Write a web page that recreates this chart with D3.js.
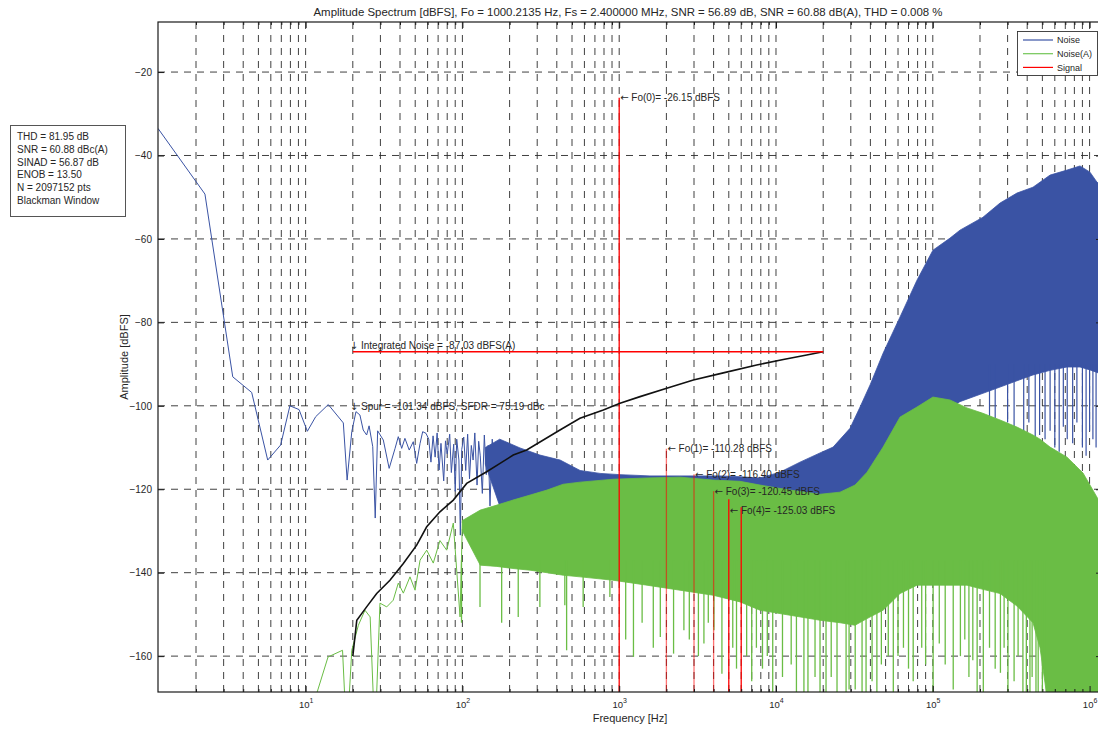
<!DOCTYPE html>
<html>
<head>
<meta charset="utf-8">
<script src="https://cdn.jsdelivr.net/npm/d3@7"></script>
<style>
	body { margin: 0; background: #fff; }
	text { font-family: "Liberation Sans", Arial, sans-serif; fill: #262626; }
	.arrow { font-family: "DejaVu Sans", sans-serif; }
</style>
</head>
<body>
<div id="spectrum"></div>
<script>
// amplitude spectrum figure (Hz and dBFS)

const titleText = "Amplitude Spectrum [dBFS], Fo = 1000.2135 Hz, Fs = 2.400000 MHz, SNR = 56.89 dB, SNR = 60.88 dB(A), THD = 0.008 %";
const infoLines = ["THD = 81.95 dB", "SNR = 60.88 dBc(A)", "SINAD = 56.87 dB", "ENOB = 13.50", "N = 2097152 pts", "Blackman Window"];
const legendNames = ["Noise", "Noise(A)", "Signal"];

const yTicks = [-160, -140, -120, -100, -80, -60, -40, -20];
const xMajor = [10, 100, 1000, 10000, 100000, 1000000];

// noise, first bins drawn as a line
const blueLineFreq = [1.144, 2.28, 3.43, 4.53, 5.73, 6.93, 7.94, 9.08, 10.26, 11.6, 13.95, 17.4, 18.4, 19.7, 20.95, 22.2, 23.3, 24.5, 25.4, 26.8, 27.8, 28.8, 31.3, 34.1, 37.2, 39.0, 41.0, 43.0, 45.8, 48.6, 51.1, 53.7, 55.8, 58.6, 61, 63, 65, 67, 69, 71, 73, 76, 78, 80, 83, 85, 88, 90, 92, 95, 97, 99, 102, 105, 108, 111, 114, 117, 120, 124, 127, 130, 134, 138, 142, 146, 150, 155, 160];
const blueLineLevel = [-33.5, -49.25, -93.05, -96.8, -113.0, -109.4, -100.0, -100.9, -106.1, -102.6, -99.7, -104.1, -117.8, -106.2, -101.4, -102.2, -105.8, -107.0, -104.8, -109.8, -126.9, -106.0, -108.2, -115.0, -110.2, -107.4, -110.2, -107.8, -110.6, -108.6, -113.8, -109.0, -106.2, -106.6, -108.0, -113.5, -107.2, -112.3, -106.5, -115.4, -109.0, -118.0, -108.4, -111.5, -106.8, -116.0, -109.2, -120.5, -108.0, -113.0, -131.0, -110.5, -107.5, -115.5, -106.8, -117.5, -109.5, -113.0, -106.5, -119.0, -108.5, -112.0, -121.0, -107.0, -116.5, -109.5, -124.0, -108.0, -118.0];

// noise, dense part drawn as a band between its upper and lower edge
const blueBandFreq = [140, 173, 233, 312, 420, 563, 755, 1012, 1570, 2440, 3280, 4390, 5900, 7900, 10600, 14230, 19080, 23130, 29650, 34360, 39810, 48190, 61830, 79260, 100200, 128800, 149000, 208900, 268500, 344400, 435500, 559800, 718000, 869000, 1006000, 1115000, 1200000];
const blueBandHigh = [-110.0, -108.0, -110.1, -111.8, -113.0, -115.5, -116.2, -116.5, -116.8, -116.8, -116.8, -116.8, -117.0, -117.3, -115.9, -113.5, -111.3, -109.9, -105.4, -100.3, -95.0, -87.4, -78.7, -69.9, -62.7, -59.8, -57.9, -54.8, -51.4, -49.0, -47.6, -44.7, -43.5, -42.5, -44.0, -46.4, -47.1];
const blueBandLow = [-114, -124, -130, -132, -134, -136, -138, -139, -141, -142, -143, -144, -145, -146, -146, -146, -146, -145, -140, -135, -130, -125, -118, -112, -106, -100.5, -99.0, -97.0, -95.5, -94.0, -92.6, -91.5, -90.7, -90.7, -91.4, -92.0, -92.5];
const blueSpikeFreq = [230000, 250000, 300000, 330000, 380000, 410000, 450000, 480000, 520000, 560000, 600000, 640000, 680000, 720000, 780000, 830000, 900000, 950000, 1000000, 1050000, 1100000, 1150000];
const blueSpikeLevel = [-106, -103, -104, -106, -110, -104, -109, -107, -108, -106, -110, -111, -105, -108, -109, -104, -110, -112, -106, -108, -110, -104];

// noise(A), first bins drawn as a line
const greenLineFreq = [10.3, 13.9, 17.2, 18.3, 19.7, 21.7, 23.9, 25.8, 27.7, 29.8, 32.9, 36.2, 39.0, 42.0, 46.3, 49.9, 53.7, 59.2, 65.2, 71.9, 79.4, 87.5, 96.6, 100];
const greenLineLevel = [-176, -160.2, -158.6, -180, -158.6, -152.6, -149.0, -150.6, -180, -147.3, -148.2, -146.6, -142.5, -144.9, -141.0, -144.2, -137.0, -134.6, -137.7, -132.3, -134.6, -128.1, -150.6, -127.5];

// noise(A), dense part
const greenBandFreq = [100, 130, 166, 210, 270, 346, 439, 563, 912, 1504, 2443, 3963, 5897, 7911, 12280, 19080, 25600, 31920, 38090, 48190, 61830, 79260, 100200, 128800, 165200, 208900, 268500, 344400, 435500, 483000, 559800, 718000, 908000, 1115000, 1200000];
const greenBandHigh = [-127.5, -125.0, -123.8, -122.6, -121.4, -120.2, -118.8, -118.3, -117.6, -117.3, -117.1, -117.8, -118.1, -119.0, -120.2, -121.2, -120.7, -119.0, -115.9, -109.9, -102.7, -100.3, -97.9, -98.6, -100.5, -101.8, -103.4, -105.1, -107.0, -108.0, -109.9, -112.3, -116.1, -121.9, -123.8];
const greenBandLow = [-130, -138.2, -138.5, -139, -139.4, -140, -140.6, -141, -141.8, -143, -144.2, -145.4, -147, -149.0, -150.2, -151.4, -152, -152.6, -151, -149.0, -145, -143, -143, -143, -143, -144, -145, -148, -152, -158, -175, -175, -175, -175, -175];
const greenSpikeFreq = [98.7, 129.5, 178, 227, 312, 450, 462, 589, 872, 1100, 1233, 1400, 1650, 1829, 2222, 2586, 2800, 3200, 3470, 3700, 4020, 4520, 5300, 5600, 6500, 7000, 7500, 8200, 8800, 9530, 11000, 12500, 13500, 15070, 15990, 17740, 19090, 20850, 22500, 24500, 27990, 29250, 32000, 35390, 37530, 41000, 44000, 47000, 52000, 56000, 60000, 65000, 70000, 75000, 85000, 90000, 100500, 110000, 120000, 135000, 150000, 160000, 170000, 180000, 191800, 210000, 230000, 250000, 270000, 285000, 301600, 330000, 350000, 375700, 395000, 416600, 430000, 455100, 470000, 500000, 530000];
const greenSpikeLevel = [-152, -148.2, -152, -150.6, -148.2, -147.8, -158.6, -148.2, -145.8, -156, -160.2, -152, -158, -155.4, -159.4, -153.8, -156, -160, -157, -152, -153.8, -164.2, -158, -163, -160, -166, -158, -163, -160, -175, -165, -162, -170, -175, -175, -165, -175, -175, -165, -172, -175, -168, -168, -175, -175, -166, -170, -162, -160, -170, -160, -158, -163, -166, -158, -162, -175, -157, -162, -168, -160, -156, -165, -161, -175, -170, -158, -163, -164, -158, -175, -166, -160, -175, -170, -175, -165, -175, -175, -175, -175];

// signal bins: fundamental and harmonics
const signalFreq = [1000, 2000, 3000, 4000, 5000, 6000];
const signalLevel = [-26.15, -110.28, -116.40, -120.45, -122.4, -124.3];
const signalFaded = [false, true, true, true, false, false];
const harmonicNames = ["Fo(0)", "Fo(1)", "Fo(2)", "Fo(3)", "Fo(4)"];
const harmonicLevel = [-26.15, -110.28, -116.40, -120.45, -125.03];
const harmonicText = ["-26.15", "-110.28", "-116.40", "-120.45", "-125.03"];

// integrated noise curve (black)
const integFreq = [20, 21.2, 24.5, 28.4, 34.5, 42.0, 51.1, 59.2, 71.9, 87.5, 106.5, 142.8, 173.8, 211, 257, 419, 562, 792, 1012, 1358, 2010, 2972, 4613, 7534, 11140, 15710, 20000];
const integLevel = [-160, -151.4, -148.2, -145.0, -141.8, -137.8, -133.4, -129.0, -125.4, -122.6, -118.6, -115.8, -113.8, -111.8, -110.6, -105.8, -103.0, -101.0, -99.4, -97.8, -95.8, -93.8, -92.1, -90.2, -88.9, -87.8, -87.03];
const integBand = [20, 20000];
const integValue = -87.03;
const spurFreq = 20;
const spurValue = -101.34;

// colours
const blue = "#3a53a4";
const green = "#6abd45";
const red = "#ff0000";
const gridColor = "#2b2b2b";

// sizes
const totalWidth = 1098, h = 729;
const plot = {left: 158, right: 1102, top: 22, bottom: 692};

const x = d3.scaleLog().domain([1.1444, 1.2e6]).range([plot.left, plot.right]);
const y = d3.scaleLinear().domain([-168.6, -8]).range([plot.bottom, plot.top]);

const svg = d3.select("#spectrum")
	.append("svg")
	.attr("width", totalWidth)
	.attr("height", h);

svg.append("defs").append("clipPath")
	.attr("id", "plotClip")
	.append("rect")
		.attr("x", plot.left)
		.attr("y", plot.top)
		.attr("width", plot.right - plot.left)
		.attr("height", plot.bottom - plot.top);

// all log ticks inside the range (1..9 per decade)
const allTicks = x.ticks().filter(d => d >= x.domain()[0] && d <= x.domain()[1]);

// dashed grid (behind the data)
const grid = svg.append("g").attr("class", "grid");
grid.selectAll("line.v")
	.data(allTicks)
	.join("line")
		.attr("class", "v")
		.attr("x1", d => x(d)).attr("x2", d => x(d))
		.attr("y1", plot.top).attr("y2", plot.bottom)
		.attr("stroke", gridColor)
		.attr("stroke-width", 0.9)
		.attr("stroke-dasharray", "7,6");
grid.selectAll("line.h")
	.data(yTicks)
	.join("line")
		.attr("class", "h")
		.attr("x1", plot.left).attr("x2", plot.right)
		.attr("y1", d => y(d)).attr("y2", d => y(d))
		.attr("stroke", gridColor)
		.attr("stroke-width", 0.9)
		.attr("stroke-dasharray", "7,6");

const data = svg.append("g").attr("clip-path", "url(#plotClip)");

const line = d3.line().x(d => x(d[0])).y(d => y(d[1]));
const band = d3.area().x(d => x(d[0])).y0(d => y(d[2])).y1(d => y(d[1]));

// noise
data.append("path")
	.datum(d3.zip(blueLineFreq, blueLineLevel))
	.attr("d", line)
	.attr("fill", "none")
	.attr("stroke", blue)
	.attr("stroke-width", 1);

data.append("path")
	.datum(d3.zip(blueBandFreq, blueBandHigh, blueBandLow))
	.attr("d", band)
	.attr("fill", blue)
	.attr("stroke", blue)
	.attr("stroke-width", 0.8);

data.append("g")
	.selectAll("line")
	.data(d3.zip(blueSpikeFreq, blueSpikeLevel))
	.join("line")
		.attr("x1", d => x(d[0])).attr("x2", d => x(d[0]))
		.attr("y1", d => y(-90)).attr("y2", d => y(d[1]))
		.attr("stroke", blue)
		.attr("stroke-width", 1.2);

// noise(A)
data.append("path")
	.datum(d3.zip(greenBandFreq, greenBandHigh, greenBandLow))
	.attr("d", band)
	.attr("fill", green)
	.attr("stroke", green)
	.attr("stroke-width", 0.8);

data.append("g")
	.selectAll("line")
	.data(d3.zip(greenSpikeFreq, greenSpikeLevel))
	.join("line")
		.attr("x1", d => x(d[0])).attr("x2", d => x(d[0]))
		.attr("y1", d => y(-137)).attr("y2", d => y(d[1]))
		.attr("stroke", green)
		.attr("stroke-width", 1.3);

data.append("path")
	.datum(d3.zip(greenLineFreq, greenLineLevel))
	.attr("d", line)
	.attr("fill", "none")
	.attr("stroke", green)
	.attr("stroke-width", 1);

// signal bins
data.append("g")
	.selectAll("line")
	.data(d3.zip(signalFreq, signalLevel, signalFaded))
	.join("line")
		.attr("x1", d => x(d[0])).attr("x2", d => x(d[0]))
		.attr("y1", y(-180)).attr("y2", d => y(d[1]))
		.attr("stroke", red)
		.attr("stroke-opacity", d => d[2] ? 0.55 : 1)
		.attr("stroke-width", 1.3);

// integrated noise curve and its band
data.append("path")
	.datum(d3.zip(integFreq, integLevel))
	.attr("d", line)
	.attr("fill", "none")
	.attr("stroke", "#111")
	.attr("stroke-width", 1.6);

data.append("line")
	.attr("x1", x(integBand[0])).attr("x2", x(integBand[1]))
	.attr("y1", y(integValue)).attr("y2", y(integValue))
	.attr("stroke", red)
	.attr("stroke-width", 1.5);

// annotations (arrow glyph in its own tspan)
const notes = svg.append("g").style("font-size", "10px");
const note = function(sel, arrow, label) {
	sel.append("tspan").attr("class", "arrow").text(arrow);
	sel.append("tspan").text(" " + label);
};
notes.append("text")
	.attr("x", x(integBand[0]) - 3)
	.attr("y", y(integValue) - 3)
	.call(note, "\u2193", "Integrated Noise = " + integValue.toFixed(2) + " dBFS(A)");
notes.append("text")
	.attr("x", x(spurFreq) - 3)
	.attr("y", y(spurValue) - 1)
	.call(note, "\u2193", "Spur = " + spurValue.toFixed(2) + " dBFS, SFDR = 75.19 dBc");
harmonicNames.forEach(function(name, i) {
	notes.append("text")
		.attr("x", x(signalFreq[i]) + 1)
		.attr("y", y(harmonicLevel[i]) + 3.5)
		.call(note, "\u2190", name + "= " + harmonicText[i] + " dBFS");
});

// axes: ticks inward on all four sides
const minor = allTicks.filter(d => !xMajor.includes(d));
const axes = svg.append("g").attr("class", "axis");

axes.append("g")
	.attr("transform", `translate(0,${plot.bottom})`)
	.call(d3.axisBottom(x).tickValues(minor).tickSizeInner(-3).tickSizeOuter(0).tickFormat(""))
	.call(g => g.select(".domain").remove());
const bottomMajor = axes.append("g")
	.attr("transform", `translate(0,${plot.bottom})`)
	.call(d3.axisBottom(x).tickValues(xMajor).tickSizeInner(-6).tickSizeOuter(0).tickPadding(9).tickFormat(""))
	.call(g => g.select(".domain").remove());
bottomMajor.selectAll(".tick text")
	.style("font-size", "9.5px")
	.attr("fill", "#262626")
	.attr("font-family", null)
	.call(t => {
		t.append("tspan").text("10");
		t.append("tspan").attr("dy", -5).style("font-size", "7px").text(d => Math.round(Math.log10(d)));
	});

axes.append("g")
	.attr("transform", `translate(0,${plot.top})`)
	.call(d3.axisTop(x).tickValues(minor).tickSizeInner(-3).tickSizeOuter(0).tickFormat(""))
	.call(g => g.select(".domain").remove());
axes.append("g")
	.attr("transform", `translate(0,${plot.top})`)
	.call(d3.axisTop(x).tickValues(xMajor).tickSizeInner(-6).tickSizeOuter(0).tickFormat(""))
	.call(g => g.select(".domain").remove());

axes.append("g")
	.attr("transform", `translate(${plot.left},0)`)
	.call(d3.axisLeft(y).tickValues(yTicks).tickSizeInner(-6).tickSizeOuter(0).tickPadding(6))
	.call(g => g.select(".domain").remove())
	.call(g => g.selectAll("text").style("font-size", "10px").attr("font-family", null).attr("fill", "#262626"));
axes.append("g")
	.attr("transform", `translate(${plot.right},0)`)
	.call(d3.axisRight(y).tickValues(yTicks).tickSizeInner(-6).tickSizeOuter(0).tickFormat(""))
	.call(g => g.select(".domain").remove());

axes.selectAll(".tick line").attr("stroke", "#1a1a1a");

// plot box
svg.append("rect")
	.attr("x", plot.left).attr("y", plot.top)
	.attr("width", plot.right - plot.left).attr("height", plot.bottom - plot.top)
	.attr("fill", "none")
	.attr("stroke", "#1a1a1a")
	.attr("stroke-width", 1.2);

// axis titles
svg.append("text")
	.attr("x", (plot.left + plot.right) / 2 - 2)
	.attr("y", 16)
	.attr("text-anchor", "middle")
	.attr("textLength", 629)
	.attr("lengthAdjust", "spacingAndGlyphs")
	.style("font-size", "11.5px")
	.text(titleText);

svg.append("text")
	.attr("x", (plot.left + plot.right) / 2)
	.attr("y", 722)
	.attr("text-anchor", "middle")
	.style("font-size", "11px")
	.text("Frequency [Hz]");

svg.append("text")
	.attr("transform", "rotate(-90)")
	.attr("x", -(plot.top + plot.bottom) / 2)
	.attr("y", 128)
	.attr("text-anchor", "middle")
	.style("font-size", "11px")
	.text("Amplitude [dBFS]");

// legend
const legend = svg.append("g");
legend.append("rect")
	.attr("x", 1017.5).attr("y", 31.5)
	.attr("width", 80).attr("height", 44)
	.attr("fill", "#fff")
	.attr("stroke", "#333")
	.attr("stroke-width", 0.9);
const legendColors = [blue, "#72c656", red];
legend.selectAll("line")
	.data(legendNames)
	.join("line")
		.attr("x1", 1023).attr("x2", 1053)
		.attr("y1", (d, i) => 40 + i * 13.7).attr("y2", (d, i) => 40 + i * 13.7)
		.attr("stroke", (d, i) => legendColors[i])
		.attr("stroke-width", 1.2);
legend.selectAll("text")
	.data(legendNames)
	.join("text")
		.attr("x", 1057)
		.attr("y", (d, i) => 43.2 + i * 13.7)
		.style("font-size", "9px")
		.text(d => d);

// info box on the left
const info = svg.append("g");
info.append("rect")
	.attr("x", 10.5).attr("y", 125.5)
	.attr("width", 115).attr("height", 91)
	.attr("fill", "#fff")
	.attr("stroke", "#555")
	.attr("stroke-width", 1);
info.selectAll("text")
	.data(infoLines)
	.join("text")
		.attr("x", 17)
		.attr("y", (d, i) => 140.2 + i * 12.7)
		.style("font-size", "10px")
		.text(d => d);
</script>
</body>
</html>
